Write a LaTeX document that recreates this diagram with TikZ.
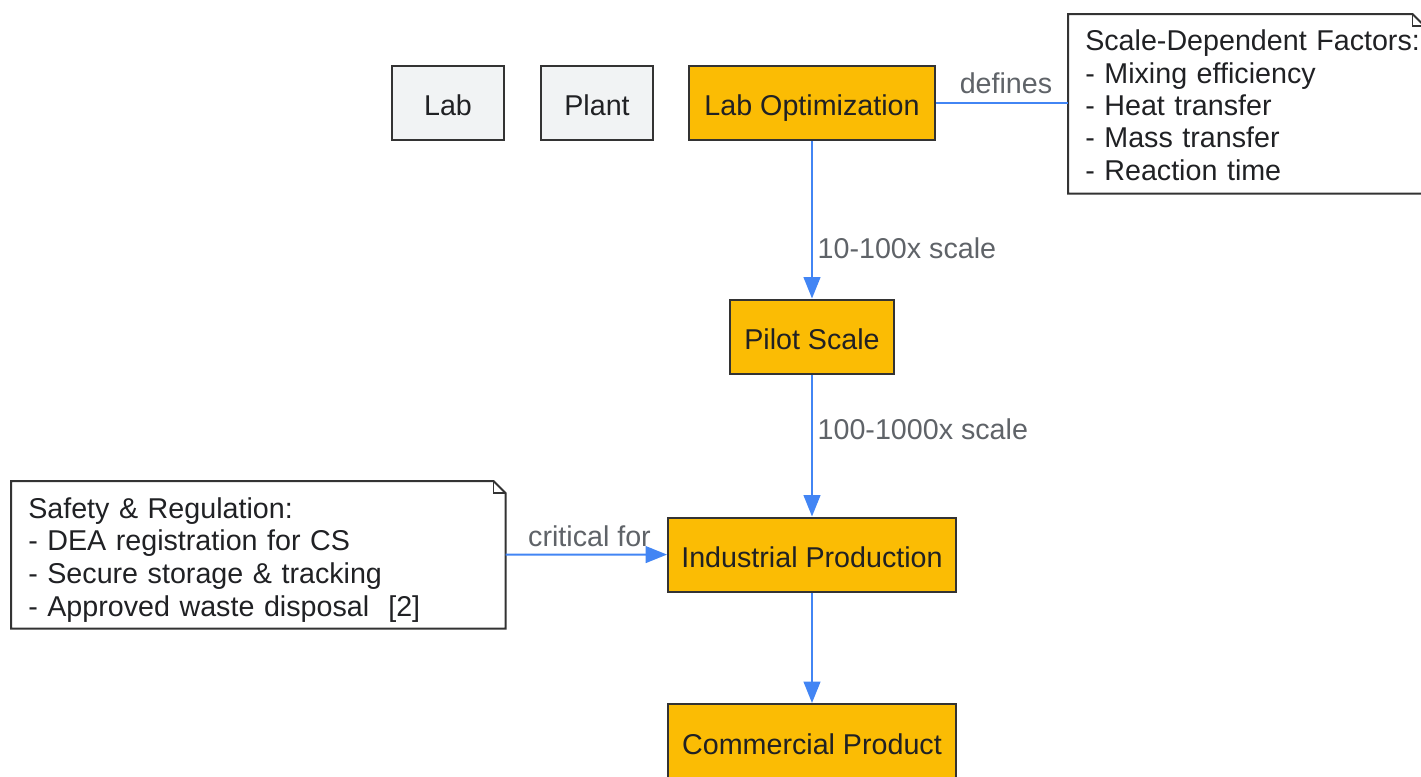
\documentclass[tikz,border=0pt]{standalone}
\usepackage{fontspec}
\setmainfont{Liberation Sans}
\usetikzlibrary{arrows.meta}
\definecolor{stagegold}{HTML}{FBBC04}
\definecolor{boxgray}{HTML}{F1F3F4}
\definecolor{edgeblue}{HTML}{4285F4}
\definecolor{labelgray}{HTML}{5F6368}
\definecolor{inkdark}{HTML}{202124}
\definecolor{rimdark}{HTML}{333333}
\tikzset{
  box/.style={draw=rimdark,line width=1.5pt,text=inkdark,inner sep=0pt,minimum height=55.5pt,text height=18.8pt,text depth=0pt,font={\fontsize{21.5}{24.5}\selectfont}},
  stage/.style={box,fill=stagegold},
  place/.style={box,fill=boxgray,minimum width=84pt},
  note/.style={anchor=north west,align=left,text=inkdark,inner xsep=12.75pt,inner ysep=0pt,text height=23pt,font={\fontsize{21.5}{24.5}\selectfont}},
  link/.style={draw=edgeblue,line width=1.5pt},
  flow/.style={link,-{Triangle[length=16pt,width=12.5pt]}},
  edgelabel/.style={text=labelgray,font={\fontsize{21.5}{24.5}\selectfont}}
}
\begin{document}
\begin{tikzpicture}[x=0.75pt,y=-0.75pt]
\clip (0,0) rectangle (1421,776);
\node (lab) at (448,103) [place] {Lab};
\node (plant) at (597,103) [place] {Plant};
\node (labopt) at (812,103) [stage,minimum width=184.5pt] {Lab Optimization};
\node (pilot) at (812,336.5) [stage,minimum width=123pt] {Pilot Scale};
\node (industrial) at (812,554.5) [stage,minimum width=216pt] {Industrial Production};
\node (commercial) at (812,741.5) [stage,minimum width=216pt,minimum height=56.25pt] {Commercial Product};

\node (factors) at (1068,14) [note,text width=241.5pt,minimum height=134.25pt,text height=17.8pt,font={\fontsize{21.5}{24.2}\selectfont}] {\mbox{Scale-Dependent Factors:}\\- Mixing efficiency\\- Heat transfer\\- Mass transfer\\- Reaction time};
\node (safety) at (11,481) [note,text width=345pt,minimum height=110.25pt] {Safety \& Regulation:\\- DEA registration for CS\\- Secure storage \& tracking\\- Approved waste disposal~~[2]};
\foreach \n in {factors,safety} {
	\draw[rimdark,line width=1.5pt] (\n.north west) -- ([xshift=-9pt]\n.north east) -- ([yshift=-9pt]\n.north east) -- (\n.south east) -- (\n.south west) -- cycle;
	\draw[rimdark,line width=0.8pt] ([xshift=-9pt]\n.north east) |- ([yshift=-9pt]\n.north east);
	}

\draw[link] (labopt.east) -- node[edgelabel,above,pos=0.53,inner ysep=6pt] {defines} (labopt.east -| factors.west);
\draw[flow] (labopt) -- node[edgelabel,right,pos=0.68,inner xsep=3.5pt] {10-100x scale} (pilot);
\draw[flow] (pilot) -- node[edgelabel,right,pos=0.385,inner xsep=3.5pt] {100-1000x scale} (industrial);
\draw[flow] (industrial) -- (commercial);
\draw[flow] (safety) -- node[edgelabel,above,pos=0.52,inner ysep=5pt] {critical for} (industrial);
\end{tikzpicture}
\end{document}
